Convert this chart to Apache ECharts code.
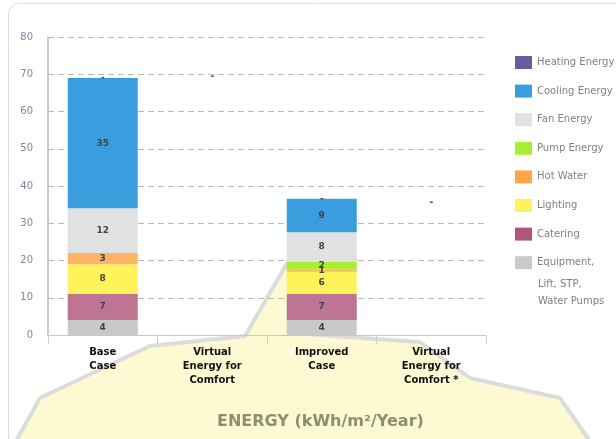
<!DOCTYPE html>
<html>
<head>
<meta charset="utf-8">
<script src="https://cdn.jsdelivr.net/npm/echarts@6/dist/echarts.min.js"></script>
<style>
html,body{margin:0;padding:0;background:#fff;}
#chart{width:616px;height:439px;}
</style>
</head>
<body>
<div id="chart"></div>
<script>
var categories = ['Base\nCase', 'Virtual\nEnergy for\nComfort', 'Improved\nCase', 'Virtual\nEnergy for\nComfort *'];
var seriesNames = ['Heating Energy', 'Cooling Energy', 'Fan Energy', 'Pump Energy', 'Hot Water', 'Lighting', 'Catering', 'Equipment, Lift, STP, Water Pumps'];
var legendLines = ['Equipment,', 'Lift, STP,', 'Water Pumps'];
var seriesColors = ['#6a5a9e', '#3a9ede', '#e0e1e1', '#aaee33', '#ffb366', '#fff35a', '#bd7592', '#c9c9c9'];
var legendColors = ['#6a5a9e', '#3a9ede', '#e0e1e1', '#aaee33', '#ffa64d', '#fff35a', '#b05580', '#c9c9c9'];
var equipment = [4, null, 4, null];
var catering = [7, null, 7, null];
var lighting = [8, null, 6, null];
var hotWater = [3, null, 0.6, null];
var pump = [0, null, 2, null];
var fan = [12, null, 8, null];
var cooling = [35, null, 9, null];
var heating = [0, null, 0, null];
var virtualComfort = [null, 69.5, null, 35.5];
var yTicks = [0, 80, 10];

var valuesByName = {
  'Heating Energy': heating,
  'Cooling Energy': cooling,
  'Fan Energy': fan,
  'Pump Energy': pump,
  'Hot Water': hotWater,
  'Lighting': lighting,
  'Catering': catering,
  'Equipment, Lift, STP, Water Pumps': equipment
};

var FONT = '"DejaVu Sans", "Liberation Sans", Arial, sans-serif';
var chart = echarts.init(document.getElementById('chart'));

var stackOrder = seriesNames.slice().reverse();
var series = stackOrder.map(function (name) {
  var idx = seriesNames.indexOf(name);
  return {
    name: name,
    type: 'bar',
    stack: 'energy',
    barWidth: 70,
    data: valuesByName[name],
    itemStyle: { color: seriesColors[idx] },
    label: {
      show: true,
      position: 'inside',
      fontFamily: FONT,
      fontSize: 9,
      fontWeight: 'bold',
      color: '#444',
      formatter: function (p) {
        if (p.seriesName === 'Heating Energy') return '-';
        if (p.value === null || p.value === 0) return '';
        return String(Math.round(p.value));
      }
    }
  };
});
series.push({
  name: 'virtual',
  type: 'scatter',
  data: virtualComfort,
  symbolSize: 0,
  silent: true,
  label: {
    show: true,
    position: 'inside',
    formatter: '-',
    fontFamily: FONT,
    fontSize: 10,
    fontWeight: 'bold',
    color: '#333'
  }
});

var legendData = seriesNames.map(function (n, i) {
  return { name: n, itemStyle: { color: legendColors[i] } };
});

chart.setOption({
  animation: false,
  backgroundColor: '#ffffff',
  textStyle: { fontFamily: FONT },
  graphic: [{
    type: 'polygon',
    z: -20,
    silent: true,
    shape: { points: [[290, 258], [305, 334], [420, 342], [470, 378], [560, 398], [610, 470], [0, 470], [40, 398], [120, 360], [150, 346], [245, 336]] },
    style: { fill: '#fdf9d3', stroke: '#dcdcdc', lineWidth: 4, lineJoin: 'round' }
  }, {
    type: 'rect',
    z: -10,
    silent: true,
    shape: { x: 8.5, y: 3.5, width: 700, height: 600, r: 10 },
    style: { fill: 'none', stroke: '#dcdcdc', lineWidth: 1 }
  }, {
    type: 'text',
    silent: true,
    left: 538,
    top: 276,
    style: { text: legendLines[1] + '\n' + legendLines[2], fontFamily: FONT, fontSize: 10, lineHeight: 17, fill: '#808080' }
  }],
  title: {
    text: 'ENERGY (kWh/m²/Year)',
    left: 212,
    top: 409,
    textStyle: { fontFamily: FONT, fontSize: 16, fontWeight: 'bold', color: '#8e8e70' }
  },
  legend: {
    orient: 'vertical',
    left: 510,
    top: 51,
    itemWidth: 17,
    itemHeight: 13,
    itemGap: 15.6,
    icon: 'rect',
    selectedMode: false,
    data: legendData,
    formatter: function (name) {
      return name === seriesNames[seriesNames.length - 1] ? legendLines[0] : name;
    },
    textStyle: { fontFamily: FONT, fontSize: 10, color: '#808080' }
  },
  grid: { left: 48, right: 130, top: 37, bottom: 104, containLabel: false },
  xAxis: {
    type: 'category',
    data: categories,
    axisLine: { lineStyle: { color: '#c8c8c8', width: 1 } },
    axisTick: { show: true, length: 9, lineStyle: { color: '#d0d0d0' } },
    axisLabel: { fontFamily: FONT, fontSize: 10, fontWeight: 'bold', color: '#111', lineHeight: 14, margin: 10, interval: 0 }
  },
  yAxis: {
    type: 'value',
    min: yTicks[0],
    max: yTicks[1],
    interval: yTicks[2],
    axisLine: { show: true, lineStyle: { color: '#bcbcbc', width: 1.5 } },
    axisTick: { show: false },
    axisLabel: { fontFamily: FONT, fontSize: 10, color: '#7a88a3', margin: 15 },
    splitLine: { show: true, lineStyle: { color: '#b8b8b8', type: [6, 4], width: 1 } }
  },
  series: series
});
</script>
</body>
</html>
